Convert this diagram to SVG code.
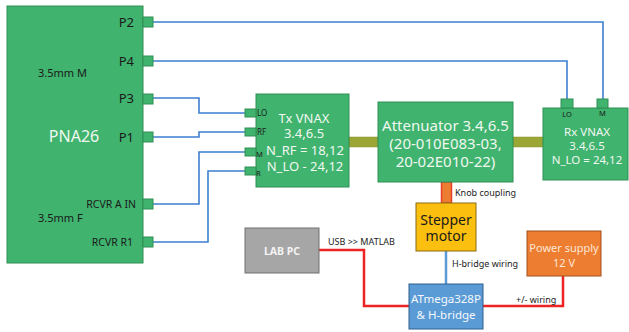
<svg xmlns="http://www.w3.org/2000/svg" width="629" height="332" viewBox="0 0 629 332">
<style>
text{font-family:"Noto Sans","Open Sans",sans-serif}
.g{fill:#40b36f;stroke:#2f8f55;stroke-width:1}
.port{fill:#40b36f;stroke:#2f8f55;stroke-width:1}
.wire{fill:none;stroke:#3c7fd0;stroke-width:1.6}
.red{fill:none;stroke:#ee2424;stroke-width:2.5}
.dk{fill:#1a1a1a}
.wt{fill:#f0f8f0}
.pl{font-size:8px;fill:#1a1a1a}
.lbl{font-size:9px;fill:#222}
</style>
<g id="connectors">
<polyline class="wire" points="153,22 603,22 603,99"/>
<polyline class="wire" points="153,61 567,61 567,99"/>
<polyline class="wire" points="153,98 199,98 199,113 245,113"/>
<polyline class="wire" points="153,137 199,137 199,132 245,132"/>
<polyline class="wire" points="153,204 199,204 199,152 245,152"/>
<polyline class="wire" points="153,242 208,242 208,171 245,171"/>
<rect x="349" y="137" width="29" height="10" fill="#9ba634" stroke="#8a9530" stroke-width="0.5"/>
<rect x="513" y="137" width="30" height="10" fill="#9ba634" stroke="#8a9530" stroke-width="0.5"/>
<rect x="441.5" y="182" width="10" height="21" fill="#ed7d31" stroke="#e8402a" stroke-width="1.5"/>
<line x1="446" y1="251" x2="446" y2="284" stroke="#5b9bd5" stroke-width="2.5"/>
<polyline class="red" points="319,250 364,250 364,306 409,306"/>
<polyline class="red" points="483,306 563,306 563,276"/>
<text x="455" y="196" class="lbl">Knob coupling</text>
<text x="452" y="267" class="lbl">H-bridge wiring</text>
<text x="328" y="245" class="lbl">USB &gt;&gt; MATLAB</text>
<text x="516" y="303" class="lbl">+/- wiring</text>
</g>
<g id="pna26">
<rect class="g" x="7" y="6" width="136" height="257"/>
<rect class="port" x="143" y="17" width="10" height="10"/>
<rect class="port" x="143" y="56" width="10" height="10"/>
<rect class="port" x="143" y="94" width="10" height="10"/>
<rect class="port" x="143" y="132" width="10" height="10"/>
<rect class="port" x="143" y="199" width="10" height="10"/>
<rect class="port" x="143" y="237" width="10" height="10"/>
<text x="134" y="27" font-size="13" text-anchor="end" class="dk">P2</text>
<text x="134" y="66" font-size="13" text-anchor="end" class="dk">P4</text>
<text x="134" y="103" font-size="13" text-anchor="end" class="dk">P3</text>
<text x="134" y="142" font-size="13" text-anchor="end" class="dk">P1</text>
<text x="136" y="208" font-size="10.5" text-anchor="end" class="dk">RCVR A IN</text>
<text x="133" y="246" font-size="10.5" text-anchor="end" class="dk">RCVR R1</text>
<text x="38" y="77" font-size="11" class="dk">3.5mm M</text>
<text x="38" y="222" font-size="11" class="dk">3.5mm F</text>
<text x="74" y="142" font-size="16" text-anchor="middle" class="wt">PNA26</text>
</g>
<g id="tx-vnax">
<rect class="g" x="256" y="94" width="93" height="93"/>
<rect class="port" x="245" y="109" width="11" height="8"/>
<rect class="port" x="245" y="128" width="11" height="8"/>
<rect class="port" x="245" y="148" width="11" height="8"/>
<rect class="port" x="245" y="167" width="11" height="8"/>
<text x="257" y="116" class="pl">LO</text>
<text x="257" y="135" class="pl">RF</text>
<text x="256" y="157" font-size="7.5" class="dk">M</text>
<text x="256" y="176" font-size="7.5" class="dk">R</text>
<g font-size="13" text-anchor="middle" class="wt">
<text x="304" y="123">Tx VNAX</text>
<text x="304" y="138">3.4,6.5</text>
<text x="305" y="155">N_RF = 18,12</text>
<text x="305" y="171">N_LO - 24,12</text>
</g>
</g>
<g id="attenuator">
<rect class="g" x="378" y="102" width="135" height="80"/>
<g font-size="15" text-anchor="middle" class="wt">
<text x="445.5" y="131">Attenuator 3.4,6.5</text>
<text x="445.5" y="149">(20-010E083-03,</text>
<text x="445.5" y="167">20-02E010-22)</text>
</g>
</g>
<g id="rx-vnax">
<rect class="g" x="543" y="108" width="85" height="72"/>
<rect class="port" x="561" y="99" width="12" height="9"/>
<rect class="port" x="597" y="99" width="11" height="9"/>
<text x="567" y="117" font-size="7.5" text-anchor="middle" class="dk">LO</text>
<text x="602.5" y="116" font-size="7.5" text-anchor="middle" class="dk">M</text>
<g font-size="11.5" text-anchor="middle" class="wt">
<text x="587" y="136">Rx VNAX</text>
<text x="587" y="150">3.4,6.5</text>
<text x="587" y="164">N_LO = 24,12</text>
</g>
</g>
<g id="stepper-motor">
<rect x="416" y="203" width="60" height="48" fill="#fbbf10" stroke="#8a6a10" stroke-width="1"/>
<text x="446" y="225" font-size="14" text-anchor="middle" class="dk">Stepper</text>
<text x="446" y="241" font-size="14" text-anchor="middle" class="dk">motor</text>
</g>
<g id="atmega">
<rect x="409" y="284" width="74" height="45" fill="#5b9bd5" stroke="#2d5f8e" stroke-width="1"/>
<text x="446" y="303" font-size="11.5" text-anchor="middle" fill="#f4f8fc">ATmega328P</text>
<text x="446" y="319" font-size="11.5" text-anchor="middle" fill="#f4f8fc">&amp; H-bridge</text>
</g>
<g id="power-supply">
<rect x="527" y="231" width="74" height="45" fill="#ed7d31" stroke="#a0501c" stroke-width="1"/>
<text x="564" y="252" font-size="11" text-anchor="middle" fill="#fde6d6">Power supply</text>
<text x="564" y="267" font-size="11" text-anchor="middle" fill="#fde6d6">12 V</text>
</g>
<g id="lab-pc">
<rect x="245" y="228" width="74" height="45" fill="#a6a6a6" stroke="#707070" stroke-width="1"/>
<text x="282" y="255" font-size="10.5" font-weight="bold" text-anchor="middle" fill="#f4f4f4">LAB PC</text>
</g>
</svg>
